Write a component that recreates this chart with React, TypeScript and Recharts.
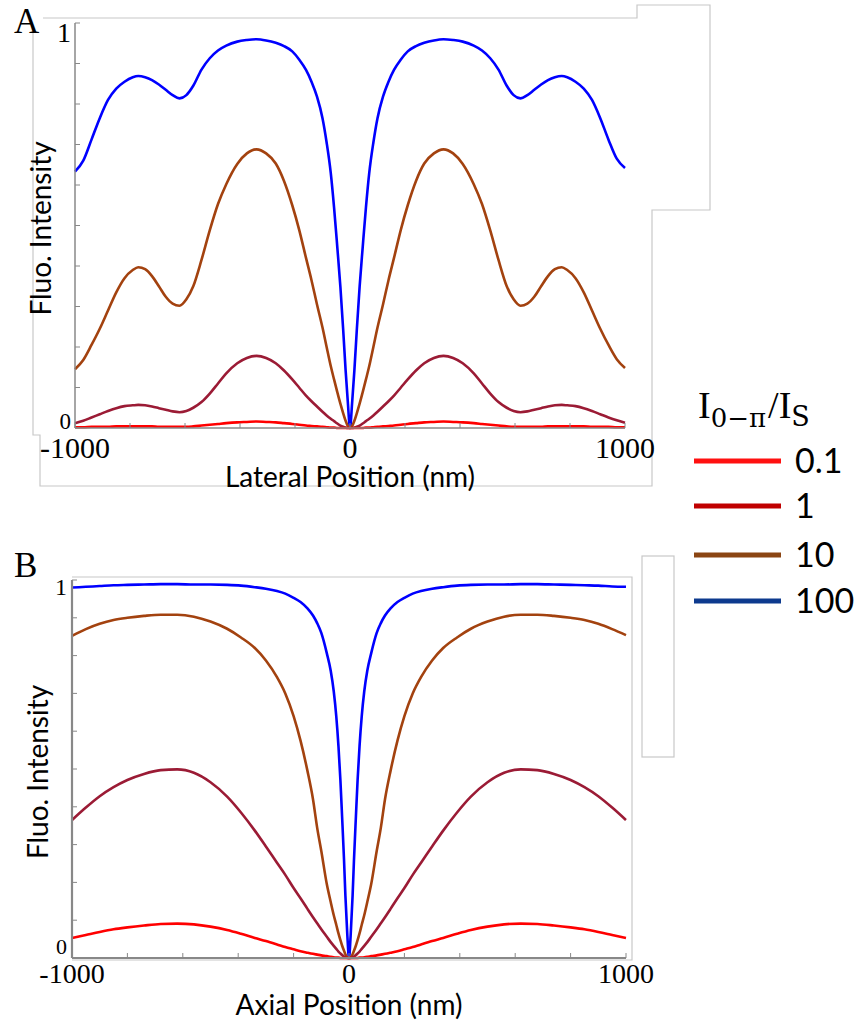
import React from 'react';
import { LineChart, Line, XAxis, YAxis, Legend, Label } from 'recharts';

const SERIF = '"Liberation Serif", "Times New Roman", serif';
const SUBSERIF = '"DejaVu Serif", serif';
const SANS = 'Lato, "Open Sans", sans-serif';

// series keys / labels
const seriesKeys = ['u', 'b', 'm', 'r'];
const seriesNames = ['100', '10', '1', '0.1'];
const lineColors = ['#0000ff', '#a3420f', '#9b1b35', '#ff0000'];

// legend (drawn in its own colours, as in the figure)
const legendLabels = ['0.1', '1', '10', '100'];
const legendColors = ['#ff1010', '#c00000', '#8b4513', '#0d3a8e'];

const xTicks = [-1000, -800, -600, -400, -200, 0, 200, 400, 600, 800, 1000];
const xLabelValues = [-1000, 0, 1000];
const yTicks = [0, 0.1, 0.2, 0.3, 0.4, 0.5, 0.6, 0.7, 0.8, 0.9, 1];

// panel A : lateral profile
const lateralX = [
  -1000, -970, -940, -910, -880, -850, -820, -790, -770, -745, -720, -695, -670, -645, -620, -595, -570, -540, -510, -480, -450,
  -410, -375, -340, -305, -270, -240, -210, -185, -160, -140, -120, -100, -85, -70, -58, -46, -35, -25, -16, -8,
  0,
  8, 16, 25, 35, 46, 58, 70, 85, 100, 120, 140, 160, 185, 210, 240, 270, 305, 340, 375, 410,
  450, 480, 510, 540, 570, 595, 620, 645, 670, 695, 720, 745, 770, 790, 820, 850, 880, 910, 940, 970, 1000,
];
const lateral100 = [
  0.633, 0.66, 0.712, 0.765, 0.81, 0.838, 0.855, 0.866, 0.869, 0.866, 0.859, 0.848, 0.835, 0.822, 0.814, 0.822, 0.845, 0.885, 0.913, 0.932, 0.944,
  0.954, 0.958, 0.96, 0.957, 0.951, 0.943, 0.93, 0.91, 0.884, 0.855, 0.818, 0.765, 0.705, 0.63, 0.545, 0.445, 0.349, 0.245, 0.143, 0.065,
  0,
  0.065, 0.143, 0.245, 0.349, 0.445, 0.545, 0.63, 0.705, 0.765, 0.818, 0.855, 0.884, 0.91, 0.93, 0.943, 0.951, 0.957, 0.96, 0.958, 0.954,
  0.944, 0.932, 0.913, 0.885, 0.845, 0.822, 0.814, 0.822, 0.835, 0.848, 0.859, 0.866, 0.869, 0.866, 0.855, 0.838, 0.81, 0.765, 0.712, 0.665, 0.642,
];
const lateral10 = [
  0.145, 0.168, 0.205, 0.245, 0.29, 0.335, 0.37, 0.39, 0.397, 0.392, 0.375, 0.35, 0.324, 0.307, 0.302, 0.318, 0.35, 0.415, 0.488, 0.553, 0.602,
  0.652, 0.678, 0.688, 0.678, 0.653, 0.61, 0.55, 0.49, 0.42, 0.365, 0.305, 0.248, 0.2, 0.153, 0.12, 0.088, 0.06, 0.037, 0.018, 0.005,
  0,
  0.005, 0.018, 0.037, 0.06, 0.088, 0.12, 0.153, 0.2, 0.248, 0.305, 0.365, 0.42, 0.49, 0.55, 0.61, 0.653, 0.678, 0.688, 0.678, 0.652,
  0.602, 0.553, 0.488, 0.415, 0.35, 0.318, 0.302, 0.307, 0.324, 0.35, 0.375, 0.392, 0.397, 0.39, 0.37, 0.335, 0.29, 0.245, 0.205, 0.17, 0.148,
];
const lateral1 = [
  0.012, 0.018, 0.026, 0.034, 0.042, 0.049, 0.054, 0.056, 0.057, 0.056, 0.053, 0.049, 0.045, 0.041, 0.039, 0.042, 0.05, 0.064, 0.085, 0.11, 0.135,
  0.16, 0.173, 0.178, 0.173, 0.16, 0.142, 0.12, 0.1, 0.08, 0.066, 0.053, 0.04, 0.031, 0.023, 0.017, 0.011, 0.006, 0.003, 0.001, 0,
  0,
  0, 0.001, 0.003, 0.006, 0.011, 0.017, 0.023, 0.031, 0.04, 0.053, 0.066, 0.08, 0.1, 0.12, 0.142, 0.16, 0.173, 0.178, 0.173, 0.16,
  0.135, 0.11, 0.085, 0.064, 0.05, 0.042, 0.039, 0.041, 0.045, 0.049, 0.053, 0.056, 0.057, 0.056, 0.054, 0.049, 0.042, 0.034, 0.026, 0.019, 0.013,
];
const lateral01 = [
  0.002, 0.002, 0.003, 0.003, 0.003, 0.004, 0.004, 0.004, 0.004, 0.004, 0.004, 0.003, 0.003, 0.003, 0.003, 0.003, 0.004, 0.006, 0.008, 0.01, 0.012,
  0.014, 0.015, 0.016, 0.015, 0.014, 0.012, 0.01, 0.008, 0.006, 0.005, 0.004, 0.003, 0.002, 0.001, 0.001, 0, 0, 0, 0, 0,
  0,
  0, 0, 0, 0, 0, 0.001, 0.001, 0.002, 0.003, 0.004, 0.005, 0.006, 0.008, 0.01, 0.012, 0.014, 0.015, 0.016, 0.015, 0.014,
  0.012, 0.01, 0.008, 0.006, 0.004, 0.003, 0.003, 0.003, 0.003, 0.003, 0.004, 0.004, 0.004, 0.004, 0.004, 0.004, 0.003, 0.003, 0.003, 0.002, 0.002,
];

// panel B : axial profile
const axialX = [
  -1000, -950, -900, -850, -800, -740, -680, -620, -560, -500, -440, -390, -340, -300, -260, -230, -200, -175, -150, -130, -115, -100,
  -80, -66, -55, -46, -38, -31, -25, -18, -13, -6,
  0,
  6, 13, 18, 25, 31, 38, 46, 55, 66, 80,
  100, 115, 130, 150, 175, 200, 230, 260, 300, 340, 390, 440, 500, 560, 620, 680, 740, 800, 850, 900, 950, 1000,
];
const axial100 = [
  0.98, 0.982, 0.984, 0.986, 0.987, 0.988, 0.989, 0.989, 0.988, 0.988, 0.987, 0.985, 0.981, 0.977, 0.971, 0.964, 0.953, 0.942, 0.925, 0.906, 0.886, 0.86,
  0.806, 0.76, 0.705, 0.64, 0.56, 0.47, 0.375, 0.26, 0.165, 0.06,
  0,
  0.06, 0.165, 0.26, 0.375, 0.47, 0.56, 0.64, 0.705, 0.76, 0.806,
  0.86, 0.886, 0.906, 0.925, 0.942, 0.953, 0.964, 0.971, 0.977, 0.981, 0.985, 0.987, 0.988, 0.988, 0.989, 0.989, 0.988, 0.987, 0.986, 0.985, 0.983, 0.982,
];
const axial10 = [
  0.852, 0.87, 0.884, 0.894, 0.9, 0.905, 0.908, 0.908, 0.903, 0.89, 0.871, 0.848, 0.82, 0.787, 0.743, 0.7, 0.64, 0.575, 0.495, 0.42, 0.345, 0.283,
  0.195, 0.148, 0.113, 0.088, 0.065, 0.047, 0.033, 0.019, 0.01, 0.002,
  0,
  0.002, 0.01, 0.019, 0.033, 0.047, 0.065, 0.088, 0.113, 0.148, 0.195,
  0.283, 0.345, 0.42, 0.495, 0.575, 0.64, 0.7, 0.743, 0.787, 0.82, 0.848, 0.871, 0.89, 0.903, 0.908, 0.908, 0.905, 0.9, 0.894, 0.884, 0.87, 0.854,
];
const axial1 = [
  0.365, 0.398, 0.428, 0.452, 0.471, 0.487, 0.497, 0.499, 0.49, 0.465, 0.427, 0.385, 0.337, 0.295, 0.252, 0.22, 0.185, 0.158, 0.13, 0.108, 0.092, 0.076,
  0.056, 0.042, 0.032, 0.024, 0.017, 0.012, 0.008, 0.004, 0.002, 0,
  0,
  0, 0.002, 0.004, 0.008, 0.012, 0.017, 0.024, 0.032, 0.042, 0.056,
  0.076, 0.092, 0.108, 0.13, 0.158, 0.185, 0.22, 0.252, 0.295, 0.337, 0.385, 0.427, 0.465, 0.49, 0.499, 0.497, 0.487, 0.471, 0.452, 0.428, 0.398, 0.365,
];
const axial01 = [
  0.053, 0.061, 0.069, 0.076, 0.081, 0.086, 0.09, 0.091, 0.089, 0.083, 0.074, 0.064, 0.053, 0.045, 0.036, 0.029, 0.023, 0.018, 0.014, 0.011, 0.009, 0.007,
  0.005, 0.003, 0.002, 0.001, 0.001, 0, 0, 0, 0, 0,
  0,
  0, 0, 0, 0, 0, 0.001, 0.001, 0.002, 0.003, 0.005,
  0.007, 0.009, 0.011, 0.014, 0.018, 0.023, 0.029, 0.036, 0.045, 0.053, 0.064, 0.074, 0.083, 0.089, 0.091, 0.09, 0.086, 0.081, 0.076, 0.069, 0.061, 0.053,
];

const buildRows = (xs: number[], u: number[], b: number[], m: number[], r: number[]) =>
  xs.map((x, i) => ({ x, u: u[i], b: b[i], m: m[i], r: r[i] }));

const lateralData = buildRows(lateralX, lateral100, lateral10, lateral1, lateral01);
const axialData = buildRows(axialX, axial100, axial10, axial1, axial01);

const XTick = (props: any) => {
  const { x, y, payload, fs, baseDy } = props;
  const v = payload.value;
  if (!xLabelValues.includes(v)) return <g />;
  return (
    <text x={x} y={y + baseDy} textAnchor="middle" fontFamily={SERIF} fontSize={fs} fill="#000">
      {String(v)}
    </text>
  );
};

const YTick = (props: any) => {
  const { x, y, payload, fsTop, fsZero, dyTop, dyZero } = props;
  const v = payload.value;
  if (v !== 0 && v !== 1) return <g />;
  return (
    <text
      x={x}
      y={y + (v === 1 ? dyTop : dyZero)}
      textAnchor="end"
      fontFamily={SERIF}
      fontSize={v === 1 ? fsTop : fsZero}
      fill="#000"
    >
      {String(v)}
    </text>
  );
};

const yTitle = (props: any) => {
  const vb = props.viewBox;
  const cx = vb.x + vb.width - 24;
  const cy = vb.y + vb.height / 2 + 3;
  return (
    <text x={cx} y={cy} transform={`rotate(-90, ${cx}, ${cy})`} textAnchor="middle" fontFamily={SANS} fontSize={28} fill="#000">
      Fluo. Intensity
    </text>
  );
};

const LegendBox = () => (
  <svg width={170} height={245}>
    <text x={8} y={33} fontFamily={SERIF} fill="#000">
      <tspan fontSize={38}>I</tspan>
      <tspan fontSize={26} fontFamily={SUBSERIF} dy={9}>0−π</tspan>
      <tspan fontSize={38} dy={-9} dx={2}>/I</tspan>
      <tspan fontSize={27} fontFamily={SUBSERIF} dy={8}>S</tspan>
    </text>
    {legendLabels.map((lab, i) => {
      const ly = [76, 121, 170, 216][i];
      return (
        <g key={lab}>
          <line x1={4} x2={91} y1={ly} y2={ly} stroke={legendColors[i]} strokeWidth={5} />
          <text x={105} y={ly + 12} fontFamily={SANS} fontSize={34} fill="#000">
            {lab}
          </text>
        </g>
      );
    })}
  </svg>
);

const axisGray = '#888888';

export default function App() {
  return (
    <div style={{ position: 'absolute', left: 0, top: 0, width: 859, height: 1022, background: '#fff' }}>
      <svg width={859} height={1022} style={{ position: 'absolute', left: 0, top: 0 }}>
        <polyline
          points="43,18 637,18 637,5 710,5 710,210 652,210 652,486 40,486 40,435 33,435 33,33"
          fill="none"
          stroke="#c8c8c8"
          strokeWidth={1.2}
        />
        <polyline points="72,577 632,577 632,960 72,960" fill="none" stroke="#c8c8c8" strokeWidth={1.2} />
        <rect x={642} y={556} width={32} height={201} fill="none" stroke="#c8c8c8" strokeWidth={1.2} />
        <text x={14} y={33} fontFamily={SERIF} fontSize={35} fill="#000">A</text>
        <text x={14} y={577} fontFamily={SERIF} fontSize={35} fill="#000">B</text>
      </svg>

      <div style={{ position: 'absolute', left: 0, top: 0 }}>
        <LineChart width={859} height={500} data={lateralData} margin={{ top: 23, right: 234, left: 35, bottom: 10 }}>
          <XAxis
            type="number"
            dataKey="x"
            domain={[-1000, 1000]}
            ticks={xTicks}
            interval={0}
            tickSize={-5}
            tickMargin={5}
            height={62}
            axisLine={{ stroke: axisGray, strokeWidth: 1.5 }}
            tickLine={{ stroke: axisGray }}
            tick={<XTick fs={30} baseDy={30} />}
          >
            <Label value="Lateral Position (nm)" position="insideBottom" offset={3} fontFamily={SANS} fontSize={28} fill="#000" />
          </XAxis>
          <YAxis
            type="number"
            domain={[0, 1]}
            ticks={yTicks}
            interval={0}
            tickSize={-5}
            tickMargin={9}
            width={40}
            axisLine={{ stroke: axisGray, strokeWidth: 1.5 }}
            tickLine={{ stroke: axisGray }}
            tick={<YTick fsTop={28} fsZero={23} dyTop={19} dyZero={1} />}
          >
            <Label content={yTitle} />
          </YAxis>
          <Legend
            layout="vertical"
            align="center"
            verticalAlign="middle"
            content={() => <LegendBox />}
            wrapperStyle={{ left: 690, top: 385, width: 170, height: 245 }}
          />
          {seriesKeys.map((k, i) => (
            <Line
              key={k}
              dataKey={k}
              name={seriesNames[i]}
              type="monotone"
              stroke={lineColors[i]}
              strokeWidth={2.6}
              dot={false}
              isAnimationActive={false}
            />
          ))}
        </LineChart>
      </div>

      <div style={{ position: 'absolute', left: 0, top: 500 }}>
        <LineChart width={859} height={522} data={axialData} margin={{ top: 80, right: 233, left: 32, bottom: 4 }}>
          <XAxis
            type="number"
            dataKey="x"
            domain={[-1000, 1000]}
            ticks={xTicks}
            interval={0}
            tickSize={-5}
            tickMargin={5}
            height={60}
            axisLine={{ stroke: axisGray, strokeWidth: 2.2 }}
            tickLine={{ stroke: axisGray }}
            tick={<XTick fs={28} baseDy={25} />}
          >
            <Label value="Axial Position (nm)" position="insideBottom" offset={3} fontFamily={SANS} fontSize={28} fill="#000" />
          </XAxis>
          <YAxis
            type="number"
            domain={[0, 1]}
            ticks={yTicks}
            interval={0}
            tickSize={-5}
            tickMargin={10}
            width={40}
            axisLine={{ stroke: axisGray, strokeWidth: 2.2 }}
            tickLine={{ stroke: axisGray }}
            tick={<YTick fsTop={24} fsZero={22} dyTop={15} dyZero={-4} />}
          >
            <Label content={yTitle} />
          </YAxis>
          {seriesKeys.map((k, i) => (
            <Line
              key={k}
              dataKey={k}
              name={seriesNames[i]}
              type="monotone"
              stroke={lineColors[i]}
              strokeWidth={2.6}
              dot={false}
              isAnimationActive={false}
            />
          ))}
        </LineChart>
      </div>
    </div>
  );
}
